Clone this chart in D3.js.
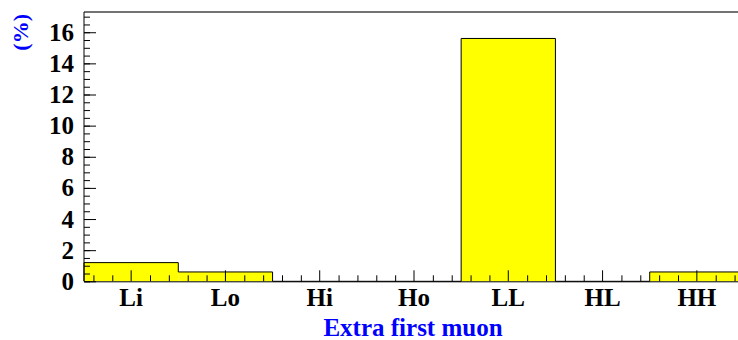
<!DOCTYPE html>
<meta charset="utf-8">
<script src="https://d3js.org/d3.v7.min.js"></script>
<style>
    body { margin: 0; background: #fff; }
    text { font-family: 'Liberation Serif', 'Times New Roman', serif; font-weight: bold; }
</style>
<div id="chart"></div>
<script>
    // bins of the histogram and their content (%)
    var categories = ["Li", "Lo", "Hi", "Ho", "LL", "HL", "HH"];
    var values = [1.2, 0.6, 0, 0, 15.6, 0, 0.6];
    var yMajorTicks = [0, 2, 4, 6, 8, 10, 12, 14, 16];
    var xTitle = "Extra first muon";
    var yTitle = "(%)";

    var W = 738, H = 340;
    var padL = 84, padR = 744, padT = 12, padB = 281.3;

    var svg = d3.select("#chart").append("svg")
        .attr("width", W)
        .attr("height", H);

    var x = d3.scaleBand().domain(categories).range([padL, padR]).padding(0);
    var xl = d3.scaleLinear().domain([0, categories.length]).range([padL, padR]);
    var y = d3.scaleLinear().domain([0, 17.3]).range([padB, padT]);

    var data = categories.map(function(c, i) { return {cat: c, v: values[i]}; });

    // filled bins
    svg.selectAll("rect.bin")
        .data(data)
        .enter()
        .append("rect")
        .attr("class", "bin")
        .attr("x", function(d) { return x(d.cat); })
        .attr("width", x.bandwidth())
        .attr("y", function(d) { return y(d.v); })
        .attr("height", function(d) { return y(0) - y(d.v); })
        .attr("fill", "#ffff00");

    // histogram contour
    var pts = [[x(categories[0]), y(0)]];
    data.forEach(function(d) {
        pts.push([x(d.cat), y(d.v)]);
        pts.push([x(d.cat) + x.bandwidth(), y(d.v)]);
    });
    pts.push([x(categories[categories.length - 1]) + x.bandwidth(), y(0)]);
    svg.append("path")
        .attr("d", d3.line()(pts))
        .attr("fill", "none")
        .attr("stroke", "#000")
        .attr("stroke-width", 1);

    // frame top
    svg.append("line")
        .attr("x1", padL).attr("x2", padR)
        .attr("y1", padT).attr("y2", padT)
        .attr("stroke", "#444").attr("stroke-width", 1.5);

    // y axis: minor ticks then major with labels
    var yMinor = d3.range(0, 17.3, 0.5);
    svg.append("g")
        .attr("transform", "translate(" + padL + ",0)")
        .call(d3.axisLeft(y).tickValues(yMinor).tickSizeInner(-6).tickSizeOuter(0).tickFormat(""))
        .call(function(g) { g.select(".domain").remove(); });
    var yAxis = svg.append("g")
        .attr("transform", "translate(" + padL + ",0)")
        .call(d3.axisLeft(y).tickValues(yMajorTicks).tickSizeInner(-12).tickSizeOuter(0).tickPadding(10));
    yAxis.select(".domain").attr("d", "M0," + padT + "V" + padB);
    yAxis.selectAll("text").style("font-size", "25px").attr("fill", "#000");

    // x axis: ticks at bin centres and fifths of a bin
    var xMinor = [];
    categories.forEach(function(c, i) {
        [-2, -1, 1, 2].forEach(function(k) { xMinor.push(i + 0.5 + k * 0.2); });
    });
    svg.append("g")
        .attr("transform", "translate(0," + padB + ")")
        .call(d3.axisBottom(xl).tickValues(xMinor).tickSizeInner(-6).tickSizeOuter(0).tickFormat(""))
        .call(function(g) { g.select(".domain").remove(); });
    var xAxis = svg.append("g")
        .attr("transform", "translate(0," + padB + ")")
        .call(d3.axisBottom(x).tickSizeInner(-11).tickSizeOuter(0).tickPadding(7));
    xAxis.selectAll("text").style("font-size", "25px").attr("fill", "#000");

    // titles
    svg.append("text")
        .attr("x", 413)
        .attr("y", 336)
        .attr("text-anchor", "middle")
        .attr("fill", "#0000ff")
        .style("font-size", "25px")
        .text(xTitle);

    svg.append("text")
        .attr("transform", "translate(28," + (padT + 2) + ") rotate(-90)")
        .attr("text-anchor", "end")
        .attr("fill", "#0000ff")
        .style("font-size", "22px")
        .text(yTitle);
</script>
